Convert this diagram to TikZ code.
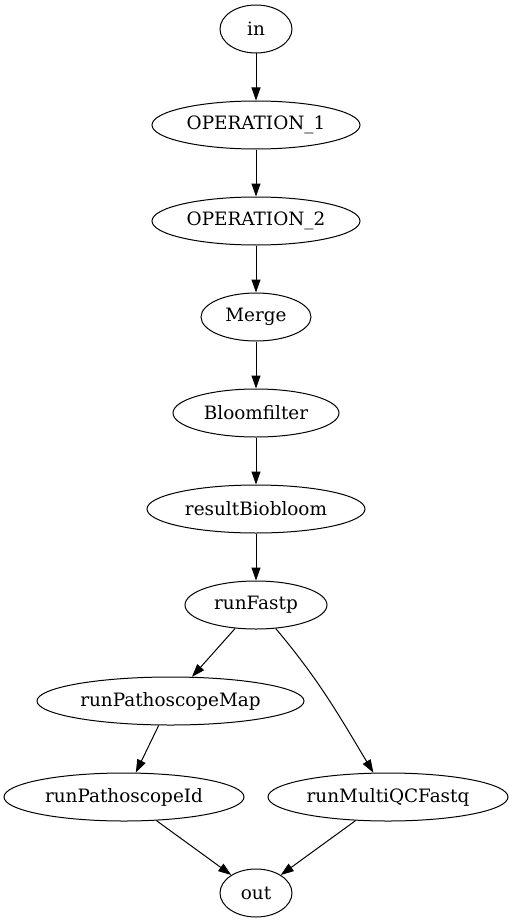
\documentclass[tikz,border=0pt]{standalone}
\usepackage{fontspec}
\setmainfont{DejaVu Serif}
\usetikzlibrary{shapes.geometric,arrows.meta}
\begin{document}
\begin{tikzpicture}[x=1pt, y=1pt, line width=1pt,
    every node/.style={draw, ellipse, inner sep=0pt, minimum height=48pt, font=\fontsize{18.4}{20}\selectfont},
    every edge/.style={draw, -{Triangle[length=13pt,width=9pt]}}]
    \useasboundingbox (0,0) rectangle (517,-923);
    \node [minimum width=72pt] (in) at (256,-29) {in};
    \node [minimum width=208pt] (op1) at (256,-125) {OPERATION\_1};
    \node [minimum width=208pt] (op2) at (256,-221) {OPERATION\_2};
    \node [minimum width=110pt] (merge) at (256,-317) {Merge};
    \node [minimum width=166pt] (bloom) at (256,-413) {Bloomfilter};
    \node [minimum width=218pt] (result) at (256,-509) {resultBiobloom};
    \node [minimum width=142pt] (fastp) at (256,-605) {runFastp};
    \node [minimum width=267pt] (pmap) at (170.5,-701) {runPathoscopeMap};
    \node [minimum width=240pt] (pid) at (124,-797) {runPathoscopeId};
    \node [minimum width=240pt] (multiqc) at (388,-797) {runMultiQCFastq};
    \node [minimum width=72pt] (out) at (256,-893) {out};
    \path (in) edge (op1);
    \path (op1) edge (op2);
    \path (op2) edge (merge);
    \path (merge) edge (bloom);
    \path (bloom) edge (result);
    \path (result) edge (fastp);
    \path (fastp) edge (pmap);
    \path (fastp) edge[out=-50, in=121] (multiqc);
    \path (pmap) edge (pid);
    \path (pid) edge (out);
    \path (multiqc) edge (out);
\end{tikzpicture}
\end{document}
